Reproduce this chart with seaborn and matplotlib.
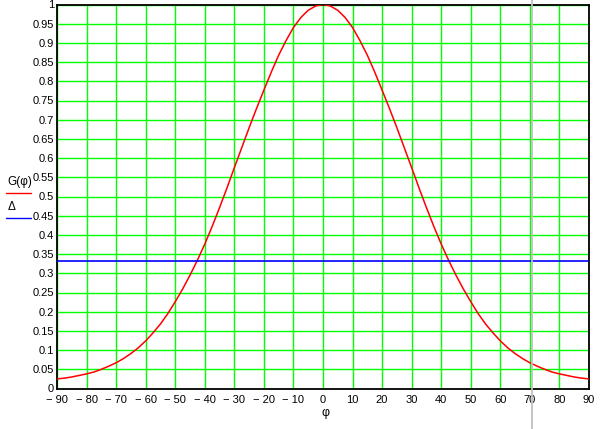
import matplotlib
matplotlib.use("Agg")
import matplotlib.pyplot as plt
import seaborn as sns
import pandas as pd

# ---- data ----
phi = [-90, -87.5, -85, -82.5, -80, -77.5, -75, -72.5, -70, -67.5, -65, -62.5,
       -60, -57.5, -55, -52.5, -50, -47.5, -45, -42.5, -40, -37.5, -35, -32.5,
       -30, -27.5, -25, -22.5, -20, -17.5, -15, -12.5, -10, -7.5, -5, -2.5,
       0, 2.5, 5, 7.5, 10, 12.5, 15, 17.5, 20, 22.5, 25, 27.5, 30, 32.5, 35,
       37.5, 40, 42.5, 45, 47.5, 50, 52.5, 55, 57.5, 60, 62.5, 65, 67.5, 70,
       72.5, 75, 77.5, 80, 82.5, 85, 87.5, 90]
G = [0.025, 0.027, 0.030, 0.034, 0.038, 0.043, 0.050, 0.058, 0.067, 0.078,
     0.091, 0.106, 0.124, 0.145, 0.168, 0.195, 0.226, 0.259, 0.295, 0.334,
     0.376, 0.422, 0.471, 0.522, 0.575, 0.627, 0.679, 0.729, 0.777, 0.824,
     0.868, 0.906, 0.940, 0.966, 0.985, 0.996,
     1.000, 0.996, 0.985, 0.966, 0.940, 0.906, 0.868, 0.824, 0.777, 0.729,
     0.679, 0.627, 0.575, 0.522, 0.471, 0.422, 0.376, 0.334, 0.295, 0.259,
     0.226, 0.195, 0.168, 0.145, 0.124, 0.106, 0.091, 0.078, 0.067, 0.058,
     0.050, 0.043, 0.038, 0.034, 0.030, 0.027, 0.025]
delta = 1 / 3
cursor_phi = 70.7

x_ticks = list(range(-90, 91, 10))
x_tick_labels = [("\u2212 " + str(abs(v))) if v < 0 else str(v) for v in x_ticks]
y_ticks = [round(i * 0.05, 2) for i in range(21)]
y_tick_labels = ["0", "0.05", "0.1", "0.15", "0.2", "0.25", "0.3", "0.35", "0.4",
                 "0.45", "0.5", "0.55", "0.6", "0.65", "0.7", "0.75", "0.8",
                 "0.85", "0.9", "0.95", "1"]

# ---- plotting ----
sns.set_style("white")
plt.rcParams["font.family"] = ["Liberation Sans", "DejaVu Sans"]

fig = plt.figure(figsize=(6.02, 4.29), dpi=100)
ax = fig.add_axes([57 / 602, 1 - 388.5 / 429, (589 - 57) / 602, 384 / 429])

df = pd.DataFrame({"phi": phi, "G": G})
sns.lineplot(data=df, x="phi", y="G", ax=ax, color="#ff0000", linewidth=1.1,
             zorder=3)
ax.axhline(delta, color="#0000ff", linewidth=1.2, zorder=3)

ax.set_xlim(-90, 90)
ax.set_ylim(0, 1)
ax.set_xticks(x_ticks)
ax.set_xticklabels(x_tick_labels)
ax.set_yticks(y_ticks)
ax.set_yticklabels(y_tick_labels)
ax.tick_params(axis="both", length=0, labelsize=8, colors="#000000")
ax.tick_params(axis="y", pad=2)
ax.tick_params(axis="x", pad=4.5)
ax.grid(True, color="#00ff00", linewidth=1.0, zorder=0)
ax.set_axisbelow(True)
for s in ax.spines.values():
    s.set_color("black")
    s.set_linewidth(1.3)
ax.set_xlabel("")
ax.set_ylabel("")

# cursor line spanning the whole figure height
ax.axvline(cursor_phi, ymin=-(429 - 388.5) / 384, ymax=1 + 5 / 384,
           color="#c0c0c0", linewidth=1.3, clip_on=False, zorder=5)

# legend-like axis labels (Mathcad style)
fig.text(7 / 602, 1 - 182.5 / 429, "G(\u03c6)", fontsize=8.5, va="center",
         ha="left", color="black")
fig.add_artist(plt.Line2D([6 / 602, 31 / 602], [1 - 193 / 429, 1 - 193 / 429],
                          color="#ff0000", linewidth=1.0))
fig.text(8 / 602, 1 - 207 / 429, "\u0394", fontsize=8.5, va="center",
         ha="left", color="black")
fig.add_artist(plt.Line2D([6 / 602, 31 / 602], [1 - 218 / 429, 1 - 218 / 429],
                          color="#0000ff", linewidth=1.0))
fig.text(325 / 602, 1 - 413 / 429, "\u03c6", fontsize=9, va="center",
         ha="center", color="black")

fig.savefig("out.png", dpi=100)
